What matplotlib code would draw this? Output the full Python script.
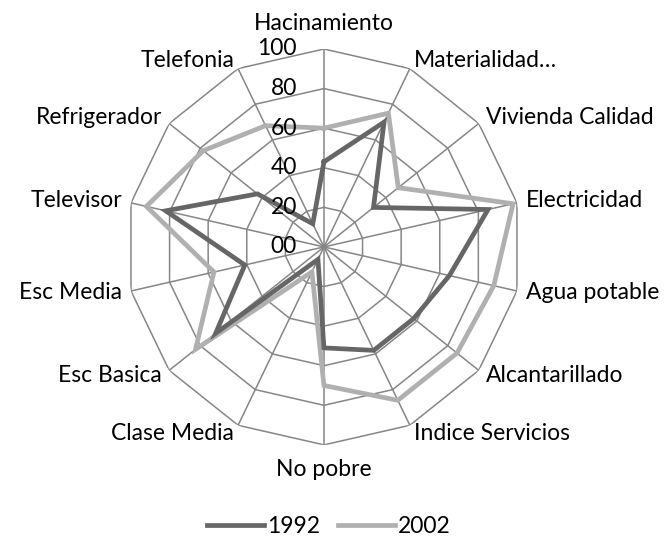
import numpy as np
import matplotlib
matplotlib.use("Agg")
import matplotlib.pyplot as plt

plt.rcParams['font.family'] = ['Lato', 'DejaVu Sans']

categorias = ["Hacinamiento", "Materialidad\u2026", "Vivienda Calidad", "Electricidad",
              "Agua potable", "Alcantarillado", "Indice Servicios", "No pobre",
              "Clase Media", "Esc Basica", "Esc Media", "Televisor",
              "Refrigerador", "Telefonia"]
v1992 = [43, 70, 32, 85, 65, 58, 58, 51, 7, 70, 41, 82, 43, 13]
v2002 = [60, 75, 48, 98, 88, 86, 86, 70, 14, 83, 57, 92, 78, 68]
anillos = [20, 40, 60, 80, 100]
etiquetas_r = ["00", "20", "40", "60", "80", "100"]

n = len(categorias)
theta = np.arange(n) * 2 * np.pi / n
tc = np.append(theta, theta[0])
fs = 16.5

fig = plt.figure(figsize=(6.71, 5.36), dpi=100)
ax = fig.add_axes([0.1878, 0.1698, 0.590, 0.739], projection="polar")
ax.set_theta_zero_location("N")
ax.set_theta_direction(-1)
ax.set_ylim(0, 100)
ax.grid(False)
ax.spines["polar"].set_visible(False)
ax.set_xticks([])
ax.set_yticks([])
ax.patch.set_visible(False)

# rejilla poligonal estilo Excel
gc = "#868686"
for r in anillos:
    ax.plot(tc, [r] * (n + 1), color=gc, lw=1.1, zorder=1)
for t in theta:
    ax.plot([t, t], [0, 100], color=gc, lw=1.1, zorder=1)

ax.plot(tc, np.append(v1992, v1992[0]), color="#666666", lw=3.4, label="1992",
        zorder=3, solid_joinstyle="miter")
ax.plot(tc, np.append(v2002, v2002[0]), color="#b0b0b0", lw=3.4, label="2002",
        zorder=2, solid_joinstyle="miter")

for i, lab in enumerate(etiquetas_r):
    ax.annotate(lab, xy=(0, i * 20), xytext=(-27, 0), textcoords="offset pixels",
                ha="right", va="center", fontsize=fs)

for t, lab in zip(theta, categorias):
    s, c = np.sin(t), np.cos(t)
    ha = "left" if s > 0.1 else ("right" if s < -0.1 else "center")
    if abs(c) > 0.95:
        off = (0, 25 * np.sign(c))
    else:
        off = (9 * s, 9 * c)
    ax.annotate(lab, xy=(t, 100), xytext=off, textcoords="offset pixels",
                ha=ha, va="center", fontsize=fs)

fig.legend(loc="lower center", bbox_to_anchor=(0.49, -0.04), ncol=2, frameon=False,
           fontsize=fs, handlelength=2.5, columnspacing=0.75, handletextpad=0.15)

fig.savefig("out.png", dpi=100)
